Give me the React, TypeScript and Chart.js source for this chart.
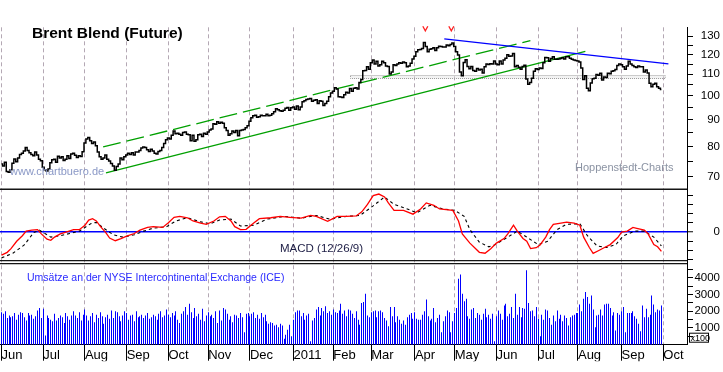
import { useEffect, useRef } from 'react';
import { Chart, registerables } from 'chart.js';

Chart.register(...registerables);

// ---------- categories ----------
const monthLabels = ['Jun', 'Jul', 'Aug', 'Sep', 'Oct', 'Nov', 'Dec', '2011', 'Feb', 'Mar', 'Apr', 'May', 'Jun', 'Jul', 'Aug', 'Sep', 'Oct'];

// ---------- daily closes (USD), one array per month ----------
const closeJun10 = [74.0, 73.4, 74.6, 71.6, 71.4, 72.2, 74.3, 75.7, 74.8, 76.0, 77.2, 77.6, 78.4, 79.6, 78.6, 77.8, 77.2, 76.8, 78.0, 77.0, 75.6, 75.1];
const closeJul10 = [73.0, 72.2, 71.8, 72.4, 74.4, 75.4, 75.6, 74.6, 76.6, 76.0, 76.4, 75.2, 75.6, 76.8, 75.8, 77.4, 77.6, 76.9, 76.2, 76.8, 76.5, 78.1];
const closeAug10 = [81.2, 82.6, 83.2, 82.0, 81.0, 81.6, 80.2, 78.0, 76.4, 75.6, 76.0, 77.0, 75.6, 75.0, 74.2, 73.4, 72.0, 73.2, 74.0, 76.0, 75.4, 76.4];
const closeSep10 = [77.0, 77.6, 77.2, 77.8, 77.0, 78.0, 78.0, 78.6, 79.4, 79.8, 79.6, 78.8, 78.2, 79.0, 78.4, 77.6, 77.4, 78.2, 78.6, 79.6, 81.0, 82.4];
const closeOct10 = [83.0, 82.6, 84.0, 85.6, 84.6, 84.8, 84.4, 84.0, 85.0, 85.2, 84.4, 84.2, 82.0, 84.0, 81.8, 82.4, 84.2, 84.4, 83.6, 84.8, 84.4];
const closeNov10 = [85.2, 86.0, 86.4, 88.4, 88.2, 89.2, 88.6, 89.0, 88.6, 86.8, 85.8, 84.0, 84.6, 85.6, 85.0, 85.8, 83.8, 85.8, 86.0, 86.2, 86.8, 87.6];
const closeDec10 = [89.4, 90.8, 91.6, 91.8, 91.0, 91.2, 91.8, 91.6, 91.6, 92.2, 91.6, 91.8, 92.4, 93.2, 94.4, 94.0, 93.6, 93.4, 93.8, 94.6, 95.0, 93.8, 94.8];
const closeJan11 = [95.2, 94.2, 95.6, 94.0, 95.2, 97.4, 97.8, 98.4, 98.6, 98.8, 97.6, 98.0, 98.2, 96.6, 97.8, 97.6, 95.8, 96.6, 97.6, 99.6, 101.2];
const closeFeb11 = [102.0, 103.6, 103.0, 99.6, 99.4, 99.2, 100.4, 101.6, 101.2, 103.2, 102.0, 103.4, 103.6, 103.0, 106.0, 107.4, 111.6, 111.8, 113.6, 112.4];
const closeMar11 = [115.6, 117.0, 115.0, 116.4, 114.0, 114.6, 116.4, 115.6, 114.0, 113.8, 110.0, 111.0, 114.6, 114.2, 115.0, 115.6, 115.4, 116.0, 115.6, 113.6, 114.0, 115.4, 117.6];
const closeApr11 = [119.0, 121.4, 122.4, 122.6, 123.2, 126.4, 124.2, 121.4, 122.8, 123.0, 123.6, 122.0, 123.6, 124.4, 124.2, 124.0, 124.0, 125.0, 124.6, 125.4, 126.2];
const closeMay11 = [124.2, 121.4, 119.6, 111.0, 109.2, 115.8, 117.2, 113.8, 112.6, 113.8, 111.8, 111.4, 112.8, 112.0, 112.4, 110.6, 113.6, 115.0, 114.8, 115.2, 115.0, 116.6];
const closeJun11 = [115.0, 114.6, 116.6, 115.0, 117.0, 118.0, 119.8, 119.0, 119.2, 120.4, 113.6, 114.2, 113.4, 112.4, 113.8, 114.4, 107.6, 105.2, 106.0, 108.0, 111.4, 112.6];
const closeJul11 = [112.2, 113.0, 112.8, 115.6, 118.4, 118.2, 116.4, 117.8, 118.8, 117.4, 117.4, 117.6, 117.8, 118.2, 117.6, 118.8, 118.8, 118.0, 117.4, 117.0, 116.8];
const closeAug11 = [116.6, 116.0, 113.0, 107.4, 109.2, 103.4, 102.2, 105.8, 107.8, 108.0, 109.8, 109.4, 110.4, 107.2, 108.6, 108.4, 110.4, 110.2, 111.4, 111.6, 112.2, 114.2, 115.0];
const closeSep11 = [114.6, 113.6, 112.4, 114.0, 116.4, 115.0, 114.2, 113.6, 113.2, 114.0, 113.6, 113.6, 111.0, 112.0, 110.6, 105.6, 104.0, 105.2, 105.6, 104.0, 103.4, 102.8];

// ---------- daily volume (contracts, x100 shown on axis) ----------
const volJun10 = [1950, 1850, 2000, 1600, 1750, 1650, 1700, 1900, 1500, 1800, 1950, 1900, 1650, 1450, 1900, 1750, 1800, 1550, 1700, 2050, 2200, 1600];
const volJul10 = [2150, 550, 1750, 1600, 1500, 1400, 1850, 1450, 1600, 1750, 1650, 1300, 1900, 1700, 1500, 1750, 2000, 1750, 1600, 1950, 1450, 1800];
const volAug10 = [2100, 1750, 1450, 1700, 1900, 1350, 1800, 1600, 1950, 1700, 1250, 1650, 1800, 1550, 2050, 1600, 2000, 1950, 1700, 1400, 1750, 2000];
const volSep10 = [1900, 1500, 1750, 1800, 1400, 2000, 1650, 1700, 1800, 1600, 1750, 1900, 1550, 1650, 1800, 1700, 1500, 1850, 2000, 1650, 1750, 2100];
const volOct10 = [1800, 1650, 1900, 1750, 2000, 1500, 1300, 1850, 2000, 2250, 1800, 2450, 1950, 1600, 2200, 1700, 1850, 1500, 2150, 1400, 1750];
const volNov10 = [1950, 1700, 1800, 1600, 2000, 1300, 2050, 1450, 2200, 2100, 1850, 1500, 1700, 1350, 1800, 1750, 1600, 1900, 1650, 750, 1850, 1900];
const volDec10 = [1700, 1850, 1950, 1600, 1800, 1550, 1900, 1650, 1800, 1400, 1250, 1350, 1300, 1150, 1200, 1050, 1250, 1150, 350, 600, 900, 1200, 500];
const volJan11 = [1500, 1950, 2050, 2050, 1700, 1900, 1500, 1750, 1850, 200, 1450, 1600, 2100, 2250, 1750, 2200, 2000, 2300, 1900, 2000, 1800];
const volFeb11 = [2100, 1950, 1900, 2050, 2450, 1850, 2050, 1700, 2100, 2050, 1850, 1600, 2000, 1500, 1200, 2500, 2550, 3050, 1750, 1650];
const volMar11 = [1950, 2000, 2050, 1650, 2000, 2050, 1950, 1600, 1450, 1100, 2250, 1700, 2250, 1350, 1700, 1500, 1250, 1450, 1200, 1650, 1800, 1900, 1550];
const volApr11 = [1950, 1550, 1500, 1500, 1800, 2000, 2700, 1700, 1450, 1550, 2200, 1350, 1600, 1800, 750, 1400, 1700, 2050, 1950, 750, 1400];
const volMay11 = [1900, 2200, 3950, 4200, 3050, 2600, 2750, 1700, 1550, 2100, 2200, 1600, 1900, 1800, 1500, 1850, 2150, 1650, 1800, 1550, 1850, 200];
const volJun11 = [1700, 2050, 1850, 1500, 2350, 2450, 1700, 1850, 2250, 1600, 3050, 1800, 2250, 1650, 2200, 2150, 4450, 2500, 2000, 2050, 1700, 2250];
const volJul11 = [1550, 500, 1800, 1500, 2100, 2050, 1600, 1200, 1750, 1400, 2050, 1550, 1800, 1400, 1750, 1600, 1150, 1650, 1750, 1800, 1900];
const volAug11 = [1900, 2400, 2000, 2750, 3150, 2850, 2450, 2950, 2100, 1050, 1750, 1800, 2100, 1750, 2400, 2450, 2450, 2200, 1750, 1950, 850, 1900, 1800];
const volSep11 = [2000, 2250, 750, 1900, 1900, 1900, 2000, 1700, 1550, 1250, 800, 2350, 1650, 2150, 1650, 1800, 2950, 2400, 1950, 2100, 2050, 2350];

// ---------- MACD (12/26/9): trading-day index -> value ----------
const macdDays = [0, 3, 5, 8, 11, 13, 16, 19, 21, 24, 26, 28, 31, 34, 38, 41, 44, 46, 48, 50, 52, 55, 57, 60, 63, 66, 70, 73, 77, 80, 85, 88, 91, 94, 98, 101, 105, 108, 112, 115, 118, 121, 123, 126, 129, 133, 136, 142, 147, 152, 158, 163, 166, 172, 177, 182, 187, 190, 193, 196, 199, 202, 204, 207, 212, 217, 221, 224, 228, 231, 238, 241, 243, 247, 252, 255, 258, 261, 265, 267, 270, 272, 275, 277, 279, 282, 284, 287, 289, 291, 295, 298, 302, 305, 307, 310, 312, 315, 318, 321, 325, 327, 330, 333, 335, 339, 341, 344, 346, 348];
const macdValues = [-2.5, -2.2, -1.8, -1.0, -0.4, 0.1, 0.2, 0.26, -0.2, -0.77, -0.9, -0.55, -0.2, 0, 0.26, 0.26, 0.74, 1.3, 1.45, 1.2, 0.64, -0.06, -0.65, -0.94, -0.71, -0.45, -0.16, 0.2, 0.5, 0.58, 0.5, 1.0, 1.6, 1.7, 1.55, 1.2, 0.97, 0.84, 1.2, 1.65, 1.7, 1.2, 0.58, 0.26, 0.3, 0.97, 1.45, 1.55, 1.7, 1.6, 1.5, 1.8, 1.7, 1.16, 1.7, 1.7, 1.75, 2.19, 3.0, 3.96, 4.12, 3.8, 3.16, 2.35, 2.35, 1.94, 2.5, 3.16, 2.9, 2.5, 2.35, 1.2, -0.2, -1.2, -2.2, -2.3, -1.8, -1.2, -0.71, -0.2, 0.74, 0.1, -0.7, -1.0, -1.8, -1.7, -1.4, -0.55, 0.26, 0.84, 0.97, 1.07, 0.97, 0.74, -0.55, -1.68, -2.32, -2.0, -1.68, -1.36, -0.6, 0.0, 0.1, 0.5, 0.4, 0.2, -0.2, -1.36, -1.6, -2.1];
const signalDays = [0, 6, 12, 17, 20, 26, 31, 36, 41, 47, 50, 54, 59, 64, 70, 75, 80, 87, 92, 98, 105, 110, 115, 121, 126, 133, 140, 149, 158, 166, 173, 182, 189, 196, 202, 207, 214, 219, 226, 233, 239, 244, 247, 252, 257, 260, 267, 272, 277, 283, 288, 293, 298, 305, 309, 314, 319, 324, 328, 334, 339, 344, 348];
const signalValues = [-2.8, -2.3, -1.4, -0.05, 0.2, -0.55, -0.4, -0.15, 0.1, 0.9, 1.05, 0.4, -0.3, -0.55, -0.3, 0.1, 0.42, 0.58, 1.2, 1.55, 1.1, 0.9, 1.3, 1.4, 0.65, 0.74, 1.4, 1.7, 1.5, 1.8, 1.4, 1.7, 1.8, 2.84, 3.8, 3.0, 2.5, 2.1, 2.9, 2.5, 2.35, 1.7, 0.26, -1.1, -1.6, -1.4, -0.55, 0.1, -0.55, -1.36, -1.0, 0.26, 0.84, 0.9, -0.4, -1.5, -1.68, -1.36, -0.4, 0.1, 0.1, -0.55, -1.5];

// ---------- drawn trend lines (trading-day index, price) ----------
const supportDays = [55.1, 307.9];
const supportPrices = [71.2, 121.6];
const channelDays = [53.6, 278.9];
const channelPrices = [79.8, 127.5];
const resistDays = [233.5, 351.7];
const resistPrices = [128.5, 115.1];
const bandDays = [184, 350];
const bandPrices = [108.2, 109.8];
const markerDays = [223.5, 237.2];

// ---------- axis ticks ----------
const priceTicks = [70, 75, 80, 85, 90, 95, 100, 105, 110, 115, 120, 125, 130];
const macdTicks = [-3, -2, -1, 0, 1, 2, 3, 4];
const volumeTicks = [500, 1000, 1500, 2000, 2500, 3000, 3500, 4000, 4500];

const closeMonths = [closeJun10, closeJul10, closeAug10, closeSep10, closeOct10, closeNov10, closeDec10, closeJan11, closeFeb11, closeMar11, closeApr11, closeMay11, closeJun11, closeJul11, closeAug11, closeSep11];
const volumeMonths = [volJun10, volJul10, volAug10, volSep10, volOct10, volNov10, volDec10, volJan11, volFeb11, volMar11, volApr11, volMay11, volJun11, volJul11, volAug11, volSep11];

const closes = closeMonths.flat();
const volumes = volumeMonths.flat();
const monthStarts: number[] = [];
{
  let acc = 0;
  for (const m of closeMonths) {
    monthStarts.push(acc);
    acc += m.length;
  }
  monthStarts.push(acc);
}

const FONT = '"Liberation Sans", Arial, Helvetica, sans-serif';

// snap the 1px volume bars to whole pixels so they stay crisp
const crispBarsPlugin = {
  id: 'crispBars',
  afterDatasetsUpdate(chart: any) {
    chart.data.datasets.forEach((ds: any, i: number) => {
      if (ds.type !== 'bar') return;
      const meta = chart.getDatasetMeta(i);
      meta.data.forEach((el: any) => {
        el.x = Math.floor(el.x) + 0.5;
      });
    });
  },
};

const decorPlugin = {
  id: 'decor',
  beforeDatasetsDraw(chart: any) {
    const { ctx, scales } = chart;
    const x = scales.x;
    const yp = scales.yPrice;
    const x1 = x.getPixelForValue(bandDays[0]);
    const x2 = x.getPixelForValue(bandDays[1]);
    const y1 = Math.round(yp.getPixelForValue(bandPrices[1])) + 0.5;
    const y2 = Math.round(yp.getPixelForValue(bandPrices[0])) + 0.5;
    ctx.save();
    ctx.fillStyle = 'rgba(220,220,220,0.35)';
    ctx.fillRect(x1, y1, x2 - x1, y2 - y1);
    ctx.strokeStyle = '#9c9c9c';
    ctx.lineWidth = 1;
    ctx.setLineDash([1, 1]);
    ctx.strokeRect(Math.round(x1) + 0.5, y1, x2 - x1, y2 - y1);
    ctx.restore();
  },
  afterDraw(chart: any) {
    const { ctx, chartArea, scales } = chart;
    const x = scales.x;
    const ym = scales.yMacd;
    const yv = scales.yVol;
    ctx.save();
    // panel separators
    ctx.strokeStyle = '#151515';
    ctx.lineWidth = 1.5;
    ctx.beginPath();
    ctx.moveTo(chartArea.left, ym.top);
    ctx.lineTo(chartArea.right, ym.top);
    ctx.stroke();
    ctx.lineWidth = 1.2;
    ctx.beginPath();
    ctx.moveTo(chartArea.left, yv.top - 1.5);
    ctx.lineTo(chartArea.right, yv.top - 1.5);
    ctx.moveTo(chartArea.left, yv.top + 1.5);
    ctx.lineTo(chartArea.right, yv.top + 1.5);
    ctx.stroke();

    // red peak markers
    ctx.strokeStyle = '#ff2020';
    ctx.lineWidth = 1.3;
    for (const d of markerDays) {
      const px = x.getPixelForValue(d);
      ctx.beginPath();
      ctx.moveTo(px - 2.5, chartArea.top - 1);
      ctx.lineTo(px, chartArea.top + 3.5);
      ctx.lineTo(px + 2.5, chartArea.top - 1);
      ctx.stroke();
    }

    // texts
    ctx.textBaseline = 'alphabetic';
    ctx.textAlign = 'left';
    ctx.fillStyle = '#000';
    ctx.font = `bold 15.5px ${FONT}`;
    ctx.fillText('Brent Blend (Future)', chartArea.left + 32, 37.5);

    ctx.font = `11px ${FONT}`;
    ctx.fillStyle = '#8a98c6';
    ctx.fillText('www.chartbuero.de', chartArea.left + 10, 174.5);
    ctx.fillStyle = '#8b93a3';
    ctx.fillText('Hoppenstedt-Charts', chartArea.left + 575, 170.5);

    ctx.font = `11.5px ${FONT}`;
    ctx.fillStyle = '#1c1c44';
    ctx.fillText('MACD (12/26/9)', chartArea.left + 280, 251.5);

    ctx.font = `10.5px ${FONT}`;
    ctx.fillStyle = '#2a2aff';
    ctx.fillText('Umsätze an der NYSE Intercontinental Exchange (ICE)', chartArea.left + 27, 281);

    // x100 box
    ctx.strokeStyle = '#000';
    ctx.lineWidth = 1;
    ctx.strokeRect(yv.left + 2.5, yv.bottom - 11.5, 19, 9);
    ctx.fillStyle = '#000';
    ctx.font = `9px ${FONT}`;
    ctx.fillText('x100', yv.left + 3.5, yv.bottom - 3.5);
    ctx.restore();
  },
};

export default function App() {
  const ref = useRef<HTMLCanvasElement>(null);
  useEffect(() => {
    document.body.style.margin = '0';
    const canvas = ref.current!;
    const chart = new Chart(canvas, {
      type: 'line',
      data: {
        datasets: [
          {
            label: 'Brent',
            data: closes.map((y, i) => ({ x: i, y })),
            yAxisID: 'yPrice',
            borderColor: '#000',
            borderWidth: 1.5,
            pointRadius: 0,
            stepped: 'middle',
          } as any,
          {
            label: 'Resistance',
            data: resistDays.map((d, i) => ({ x: d, y: resistPrices[i] })),
            yAxisID: 'yPrice',
            borderColor: '#0000ff',
            borderWidth: 1.4,
            pointRadius: 0,
          },
          {
            label: 'Support',
            data: supportDays.map((d, i) => ({ x: d, y: supportPrices[i] })),
            yAxisID: 'yPrice',
            borderColor: '#00a000',
            borderWidth: 1.3,
            pointRadius: 0,
          },
          {
            label: 'Channel',
            data: channelDays.map((d, i) => ({ x: d, y: channelPrices[i] })),
            yAxisID: 'yPrice',
            borderColor: '#00a000',
            borderWidth: 1.3,
            borderDash: [18, 6],
            pointRadius: 0,
          },
          {
            label: 'MACD',
            data: macdDays.map((d, i) => ({ x: d, y: macdValues[i] })),
            yAxisID: 'yMacd',
            borderColor: '#ff0000',
            borderWidth: 1.3,
            pointRadius: 0,
          },
          {
            label: 'Signal',
            data: signalDays.map((d, i) => ({ x: d, y: signalValues[i] })),
            yAxisID: 'yMacd',
            borderColor: '#000',
            borderWidth: 1.1,
            borderDash: [3, 3],
            pointRadius: 0,
          },
          {
            type: 'bar',
            label: 'Volume',
            data: volumes.map((y, i) => ({ x: i, y })),
            yAxisID: 'yVol',
            backgroundColor: '#0000ff',
            borderWidth: 0,
            barThickness: 1,
            inflateAmount: 0,
          } as any,
        ],
      },
      options: {
        responsive: false,
        devicePixelRatio: 1,
        animation: false,
        events: [],
        font: { family: FONT },
        layout: { padding: { left: 0, right: 3, top: 0, bottom: 0 }, autoPadding: false },
        plugins: { legend: { display: false }, tooltip: { enabled: false } },
        scales: {
          x: {
            type: 'linear',
            position: 'bottom',
            min: -0.8,
            max: 361.5,
            offset: false,
            afterBuildTicks: (s: any) => {
              s.ticks = monthStarts.map((v) => ({ value: v }));
            },
            afterFit: (s: any) => {
              s.height = 16.5;
            },
            ticks: {
              callback: (_v: any, i: number) => monthLabels[i] ?? '',
              align: 'start',
              padding: -13,
              font: { size: 13, family: FONT },
              color: '#000',
              autoSkip: false,
              maxRotation: 0,
              minRotation: 0,
            },
            grid: {
              color: '#b4a8b4',
              lineWidth: 1,
              drawOnChartArea: true,
              drawTicks: true,
              tickLength: 16,
              tickColor: '#000',
              tickWidth: 1,
              tickBorderDash: [],
              offset: false,
            },
            border: { display: true, color: '#000', width: 1, dash: [4, 3] },
          } as any,
          yPrice: {
            type: 'logarithmic',
            position: 'right',
            stack: 'panels',
            stackWeight: 181.5,
            min: 66.2,
            max: 135.2,
            bounds: 'data',
            afterBuildTicks: (s: any) => {
              s.ticks = priceTicks.map((v) => ({ value: v }));
            },
            afterFit: (s: any) => {
              s.width = 33;
            },
            ticks: {
              callback: (v: any) => (Number(v) % 10 === 0 ? String(v) : ''),
              crossAlign: 'far',
              padding: 7.6,
              font: { size: 11.5, family: FONT },
              color: '#000',
              autoSkip: false,
            },
            grid: { drawOnChartArea: false, drawTicks: true, tickLength: 6, tickColor: '#000', color: '#000', tickWidth: 1 },
            border: { display: true, color: '#000', width: 1 },
          } as any,
          yMacd: {
            type: 'linear',
            position: 'right',
            stack: 'panels',
            stackWeight: 81.5,
            min: -3.26,
            max: 4.63,
            bounds: 'data',
            afterBuildTicks: (s: any) => {
              s.ticks = macdTicks.map((v) => ({ value: v }));
            },
            afterFit: (s: any) => {
              s.width = 33;
            },
            ticks: {
              callback: (v: any) => (Number(v) === 0 ? '0' : ''),
              crossAlign: 'far',
              padding: 20.4,
              font: { size: 11.5, family: FONT },
              color: '#000',
              autoSkip: false,
            },
            grid: {
              drawOnChartArea: true,
              drawTicks: true,
              tickLength: 6,
              tickColor: '#000',
              tickWidth: 1,
              color: (c: any) => (c.tick && c.tick.value === 0 ? '#0000ff' : 'rgba(0,0,0,0)'),
              lineWidth: (c: any) => (c.tick && c.tick.value === 0 ? 1.5 : 1),
            },
            border: { display: true, color: '#000', width: 1 },
          } as any,
          yVol: {
            type: 'linear',
            position: 'right',
            stack: 'panels',
            stackWeight: 92.5,
            min: 0,
            max: 4944,
            bounds: 'data',
            afterBuildTicks: (s: any) => {
              s.ticks = volumeTicks.map((v) => ({ value: v }));
            },
            afterFit: (s: any) => {
              s.width = 33;
            },
            ticks: {
              callback: (v: any) => (Number(v) % 1000 === 0 ? String(v) : ''),
              crossAlign: 'far',
              padding: 0,
              font: { size: 11.5, family: FONT },
              color: '#000',
              autoSkip: false,
            },
            grid: { drawOnChartArea: false, drawTicks: true, tickLength: 6, tickColor: '#000', color: '#000', tickWidth: 1 },
            border: { display: true, color: '#000', width: 1 },
          } as any,
        },
      } as any,
      plugins: [crispBarsPlugin, decorPlugin],
    });
    return () => chart.destroy();
  }, []);

  return (
    <div style={{ position: 'fixed', left: 0, top: 0, width: 723, height: 372, background: '#fff' }}>
      <canvas ref={ref} width={723} height={372} style={{ display: 'block', width: 723, height: 372 }} />
    </div>
  );
}
